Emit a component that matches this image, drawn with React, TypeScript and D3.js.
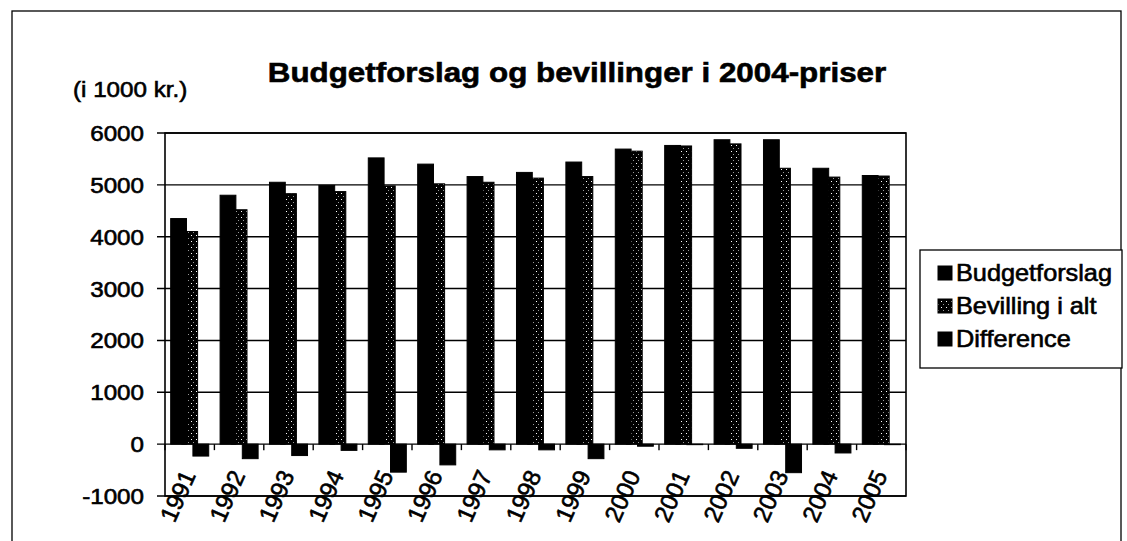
import React, { useEffect, useRef } from 'react';
import * as d3 from 'd3';

const years = ['1991', '1992', '1993', '1994', '1995', '1996', '1997', '1998', '1999', '2000', '2001', '2002', '2003', '2004', '2005'];
const budgetforslag = [4350, 4800, 5050, 4990, 5520, 5400, 5160, 5240, 5440, 5690, 5760, 5870, 5870, 5320, 5180];
const bevilling = [4100, 4520, 4830, 4870, 4980, 5020, 5050, 5130, 5160, 5650, 5750, 5790, 5320, 5150, 5170];
const difference = [-230, -280, -220, -120, -540, -400, -110, -110, -280, -40, -10, -80, -550, -170, -10];
const yTicks = [-1000, 0, 1000, 2000, 3000, 4000, 5000, 6000];
const seriesNames = ['Budgetforslag', 'Bevilling i alt', 'Difference'];

const FONT = '"Liberation Sans", Arial, sans-serif';

const App: React.FC = () => {
  const ref = useRef<SVGSVGElement>(null);

  useEffect(() => {
    if (!ref.current) return;
    const svg = d3.select(ref.current);
    svg.selectAll('*').remove();

    // motif pour "Bevilling i alt"
    const defs = svg.append('defs');
    const pat = defs.append('pattern')
      .attr('id', 'dots')
      .attr('width', 5)
      .attr('height', 6)
      .attr('patternUnits', 'userSpaceOnUse');
    pat.append('rect').attr('width', 5).attr('height', 6).attr('fill', '#000');
    pat.append('rect').attr('x', 1).attr('y', 1).attr('width', 1).attr('height', 1).attr('fill', '#fff');
    pat.append('rect').attr('x', 3).attr('y', 4).attr('width', 1).attr('height', 1).attr('fill', '#999');

    const left = 165, right = 906, top = 133, bottom = 496;

    const x = d3.scaleBand().domain(years).range([left, right]);
    const y = d3.scaleLinear().domain([-1000, 6000]).range([bottom, top]);
    const band = x.bandwidth();
    const barW = band * 0.32;

    // texte un peu plus gras, comme la copie scannée
    const ink = (sel: any) => sel
      .style('font-family', FONT)
      .attr('fill', '#000')
      .attr('stroke', '#000')
      .attr('stroke-width', 0.6);

    // cadre extérieur
    svg.append('rect')
      .attr('x', 12).attr('y', 11)
      .attr('width', 1109).attr('height', 540)
      .attr('fill', 'none').attr('stroke', '#000').attr('stroke-width', 1.3);

    // titre
    svg.append('text')
      .attr('transform', 'translate(577,82) scale(1.12,1)')
      .attr('text-anchor', 'middle')
      .call(ink)
      .style('font-weight', 'bold')
      .style('font-size', '28px')
      .text('Budgetforslag og bevillinger i 2004-priser');

    svg.append('text')
      .attr('transform', 'translate(73,97) scale(1.1,1)')
      .call(ink)
      .style('font-size', '22px')
      .text('(i 1000 kr.)');

    // grille
    svg.append('g').selectAll('line')
      .data(yTicks)
      .enter()
      .append('line')
      .attr('x1', left - 8).attr('x2', right)
      .attr('y1', d => y(d)).attr('y2', d => y(d))
      .attr('stroke', '#000').attr('stroke-width', 1.4);

    svg.append('g').selectAll('text')
      .data(yTicks)
      .enter()
      .append('text')
      .attr('transform', d => `translate(144,${y(d) + 8}) scale(1.1,1)`)
      .attr('text-anchor', 'end')
      .call(ink)
      .style('font-size', '22px')
      .text(d => String(d));

    // barres
    const drawSeries = (vals: number[], i: number, fill: string) => {
      svg.append('g').selectAll('rect')
        .data(vals)
        .enter()
        .append('rect')
        .attr('x', (_, j) => (x(years[j]) as number) + band * (0.115 + i * 0.225))
        .attr('width', barW)
        .attr('y', d => y(Math.max(0, d)))
        .attr('height', d => Math.abs(y(d) - y(0)))
        .attr('fill', fill)
        .attr('stroke', '#000')
        .attr('stroke-width', 1);
    };
    drawSeries(difference, 2, '#000');
    drawSeries(bevilling, 1, 'url(#dots)');
    drawSeries(budgetforslag, 0, '#000');

    // bordure du graphique
    svg.append('rect')
      .attr('x', left).attr('y', top)
      .attr('width', right - left).attr('height', bottom - top)
      .attr('fill', 'none').attr('stroke', '#000').attr('stroke-width', 1.6);

    // axe des catégories
    svg.append('g').selectAll('line')
      .data(d3.range(years.length + 1))
      .enter()
      .append('line')
      .attr('x1', d => left + d * band).attr('x2', d => left + d * band)
      .attr('y1', y(0)).attr('y2', y(0) + 6)
      .attr('stroke', '#000').attr('stroke-width', 1.4);

    svg.append('g').selectAll('text')
      .data(years)
      .enter()
      .append('text')
      .attr('transform', d => `translate(${(x(d) as number) + band / 2 - 12},${496}) rotate(-66)`)
      .attr('text-anchor', 'middle')
      .attr('dy', '0.35em')
      .call(ink)
      .style('font-size', '24px')
      .text(d => d);

    // légende
    svg.append('rect')
      .attr('x', 920).attr('y', 250)
      .attr('width', 202).attr('height', 118)
      .attr('fill', '#fff').attr('stroke', '#000').attr('stroke-width', 1.3);

    const fills = ['#000', 'url(#dots)', '#000'];
    const rowY = [273, 306, 339];
    seriesNames.forEach((name, i) => {
      svg.append('rect')
        .attr('x', 938).attr('y', rowY[i] - 7)
        .attr('width', 14).attr('height', 14)
        .attr('fill', fills[i]).attr('stroke', '#000');
      svg.append('text')
        .attr('transform', `translate(956,${rowY[i] + 8}) scale(1.1,1)`)
        .call(ink)
        .style('font-size', '23px')
        .text(name);
    });
  }, []);

  return (
    <svg
      ref={ref}
      width={1127}
      height={541}
      style={{ position: 'absolute', left: 0, top: 0, background: '#fff' }}
    />
  );
};

export default App;
